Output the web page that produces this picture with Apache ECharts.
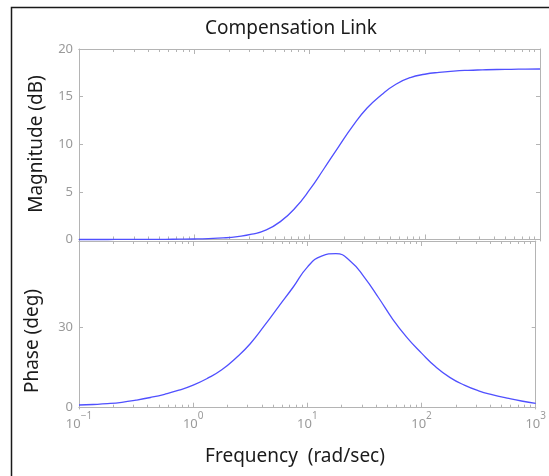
<!DOCTYPE html>
<html>
<head>
<meta charset="utf-8">
<script src="https://cdn.jsdelivr.net/npm/echarts@6/dist/echarts.min.js"></script>
<style>
  html, body { margin: 0; padding: 0; background: #fff; }
  #chart { width: 549px; height: 476px; }
</style>
</head>
<body>
<div id="chart"></div>
<script>
// frequency points (rad/sec), read every 1/8 decade
const freq = [0.1, 0.133, 0.178, 0.237, 0.316, 0.422, 0.562, 0.75,
              1, 1.33, 1.78, 2.37, 3.16, 4.22, 5.62, 7.5,
              10, 13.3, 17.8, 23.7, 31.6, 42.2, 56.2, 75,
              100, 133, 178, 237, 316, 422, 562, 750, 1000];

// magnitude (dB)
const magDb = [0, 0, 0, 0.01, 0.01, 0.01, 0.02, 0.03,
               0.05, 0.09, 0.16, 0.3, 0.55, 1.0, 1.9, 3.3,
               5.2, 7.4, 9.7, 11.9, 13.8, 15.2, 16.3, 17.0,
               17.35, 17.55, 17.68, 17.76, 17.81, 17.85, 17.87, 17.89, 17.9];

// phase (deg)
const phaseDeg = [1.0, 1.2, 1.5, 2.0, 2.8, 3.8, 5.0, 6.5,
                  8.4, 10.9, 14.1, 18.5, 23.8, 30.6, 37.7, 44.8,
                  52.3, 56.4, 57.3, 54.6, 48.5, 40.8, 32.8, 26.0,
                  20.3, 15.2, 11.2, 8.4, 6.3, 4.8, 3.6, 2.5, 1.6];

// ticks
const freqMajor = [0.1, 1, 10, 100, 1000];
const freqMinor = [];
for (let d = 0.1; d < 1000; d *= 10) {
  for (let k = 2; k <= 9; k++) freqMinor.push(+(d * k).toPrecision(3));
}
const magTicks = [0, 5, 10, 15, 20];
const phaseTicks = [0, 30];

const axisColor = '#b4b4b4';
const labelColor = '#9a9a9a';
const lineBlue = '#5050ff';
const font = 'Noto Sans';

function expLabel(v) {
  const e = Math.round(Math.log10(v));
  return '{a|10}{b|' + (e < 0 ? '\u2212' + (-e) : e) + '}';
}

function freqAxis(gridIndex, position, ticks, len, showLabels) {
  return {
    type: 'log',
    logBase: 10,
    gridIndex: gridIndex,
    position: position,
    min: 0.1,
    max: 1000,
    axisLine: { show: true, lineStyle: { color: axisColor, width: 1 } },
    axisTick: { show: true, inside: true, length: len, customValues: ticks, lineStyle: { color: axisColor } },
    axisLabel: {
      show: showLabels,
      customValues: freqMajor,
      margin: 2,
      formatter: expLabel,
      rich: {
        a: { fontSize: 13, color: labelColor, fontFamily: font, verticalAlign: 'bottom' },
        b: { fontSize: 10, color: labelColor, fontFamily: font, verticalAlign: 'bottom', padding: [0, 0, 10, 0] }
      }
    },
    splitLine: { show: false },
    minorTick: { show: false }
  };
}

function valueAxis(gridIndex, position, min, max, ticks, showLabels) {
  return {
    type: 'value',
    gridIndex: gridIndex,
    position: position,
    min: min,
    max: max,
    axisLine: { show: true, lineStyle: { color: axisColor, width: 1 } },
    axisTick: { show: true, inside: true, length: 4, customValues: ticks, lineStyle: { color: axisColor } },
    axisLabel: { show: showLabels, customValues: ticks, margin: 6, fontSize: 13, color: labelColor, fontFamily: font },
    splitLine: { show: false }
  };
}

const chart = echarts.init(document.getElementById('chart'));

const option = {
  animation: false,
  grid: [
    { left: 79, top: 49, width: 461, height: 192 },
    { left: 79, top: 241, width: 461, height: 168 }
  ],
  xAxis: [
    freqAxis(0, 'bottom', freqMajor, 5, false),
    freqAxis(0, 'bottom', freqMinor, 3, false),
    freqAxis(0, 'top', freqMajor, 5, false),
    freqAxis(0, 'top', freqMinor, 3, false),
    freqAxis(1, 'bottom', freqMajor, 5, true),
    freqAxis(1, 'bottom', freqMinor, 3, false),
    freqAxis(1, 'top', freqMajor, 5, false),
    freqAxis(1, 'top', freqMinor, 3, false)
  ],
  yAxis: [
    valueAxis(0, 'left', -0.16, 20, magTicks, true),
    valueAxis(0, 'right', -0.16, 20, magTicks, false),
    valueAxis(1, 'left', -0.48, 62, phaseTicks, true),
    valueAxis(1, 'right', -0.48, 62, phaseTicks, false)
  ],
  series: [
    {
      type: 'line',
      xAxisIndex: 0,
      yAxisIndex: 0,
      data: freq.map((f, i) => [f, magDb[i]]),
      showSymbol: false,
      smooth: 0.5,
      lineStyle: { color: lineBlue, width: 1.3 }
    },
    {
      type: 'line',
      xAxisIndex: 4,
      yAxisIndex: 2,
      data: freq.map((f, i) => [f, phaseDeg[i]]),
      showSymbol: false,
      smooth: 0.5,
      lineStyle: { color: lineBlue, width: 1.3 }
    }
  ],
  graphic: [
    {
      type: 'rect',
      shape: { x: 11.5, y: 7.5, width: 600, height: 600 },
      style: { fill: 'none', stroke: '#1a1a1a', lineWidth: 1.5 },
      silent: true
    },
    {
      type: 'text',
      x: 291, y: 29,
      style: { text: 'Compensation Link', fontSize: 19, fontFamily: font, fill: '#1a1a1a', align: 'center', verticalAlign: 'middle' }
    },
    {
      type: 'text',
      x: 37, y: 144, rotation: Math.PI / 2,
      style: { text: 'Magnitude (dB)', fontSize: 19, fontFamily: font, fill: '#1a1a1a', align: 'center', verticalAlign: 'middle' }
    },
    {
      type: 'text',
      x: 33, y: 341, rotation: Math.PI / 2,
      style: { text: 'Phase (deg)', fontSize: 19, fontFamily: font, fill: '#1a1a1a', align: 'center', verticalAlign: 'middle' }
    },
    {
      type: 'text',
      x: 295, y: 457,
      style: { text: 'Frequency  (rad/sec)', fontSize: 19, fontFamily: font, fill: '#1a1a1a', align: 'center', verticalAlign: 'middle' }
    }
  ]
};

chart.setOption(option);
</script>
</body>
</html>
